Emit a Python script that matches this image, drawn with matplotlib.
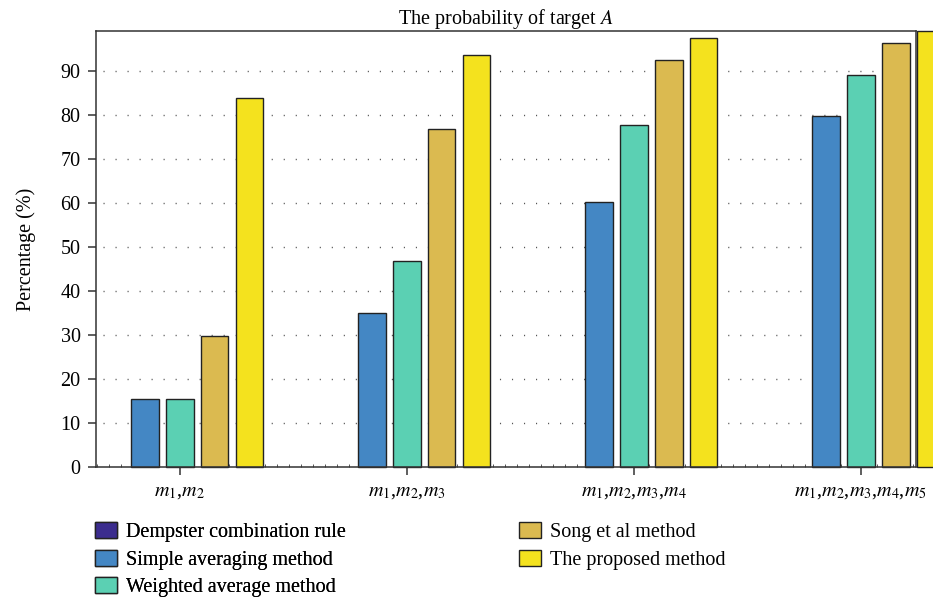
import matplotlib
matplotlib.use("Agg")
import matplotlib.pyplot as plt
import numpy as np
from matplotlib.ticker import MultipleLocator

plt.rcParams['font.family'] = ['Liberation Serif', 'DejaVu Serif']
plt.rcParams['mathtext.fontset'] = 'stix'
plt.rcParams['lines.scale_dashes'] = False

groups = [r'$m_1$,$m_2$', r'$m_1$,$m_2$,$m_3$', r'$m_1$,$m_2$,$m_3$,$m_4$', r'$m_1$,$m_2$,$m_3$,$m_4$,$m_5$']
series_names = ['Dempster combination rule', 'Simple averaging method', 'Weighted average method',
                'Song et al method', 'The proposed method']
dempster = [0, 0, 0, 0]
simple_avg = [15.4, 35.0, 60.2, 79.6]
weighted_avg = [15.4, 46.8, 77.7, 89.1]
song = [29.8, 76.7, 92.5, 96.3]
proposed = [83.8, 93.5, 97.3, 99.0]
colors = ['#3b2c8e', '#4487c4', '#5bd0b3', '#dbba50', '#f4e21e']
yticks = [0, 10, 20, 30, 40, 50, 60, 70, 80, 90]

values = [dempster, simple_avg, weighted_avg, song, proposed]

fig = plt.figure(figsize=(9.33, 5.97), dpi=100)
ax = fig.add_axes([96/933, 1-467/597, (916-96)/933, (467-31)/597])

x = np.arange(1, len(groups)+1)
step = 0.154
width = 0.123
handles = []
for i, (vals, c, name) in enumerate(zip(values, colors, series_names)):
    lws = [0 if v == 0 else 1.0 for v in vals]
    b = ax.bar(x + (i-2)*step, vals, width, color=c, edgecolor='#222222', linewidth=lws,
               label=name, clip_on=False, zorder=2)
    handles.append(b)

ax.set_xlim(0.632, 4.244)
ax.set_ylim(0, 99)
ax.set_yticks(yticks)
ax.set_xticks(x)
ax.set_xticklabels(groups, fontsize=14.5)
ax.xaxis.set_minor_locator(MultipleLocator(12/227))
ax.tick_params(axis='x', which='major', direction='out', length=6, width=1.1, color='#333333', pad=5)
ax.tick_params(axis='x', which='minor', direction='in', length=2.5, width=0.7, color='#555555')
ax.tick_params(axis='y', which='major', direction='out', length=6, width=1.1, color='#333333',
               labelsize=14.5, pad=5)
ax.tick_params(axis='y', which='minor', left=False)

for sp in ax.spines.values():
    sp.set_color('#333333')
    sp.set_linewidth(1.1)
    sp.set_zorder(3)

for yv in yticks[1:]:
    ax.axhline(yv, xmin=7/820, xmax=1, color='#555555', linewidth=1.0,
               linestyle=(0, (0.8, 7.85)), zorder=1)

ax.set_title(r'The probability of target $A$', fontsize=14.5, pad=3)
ax.set_ylabel('Percentage (%)', fontsize=14.5, labelpad=18)

legprops = {'family': ['Liberation Serif', 'DejaVu Serif'], 'size': 14.5}
leg_handles = []
for h, c in zip(handles, colors):
    leg_handles.append(matplotlib.patches.Patch(facecolor=c, edgecolor='#222222', linewidth=1.0))
leg1 = fig.legend(leg_handles[:3], series_names[:3], loc='upper left',
                  bbox_to_anchor=(95/933, 1-522/597), frameon=False, prop=legprops,
                  handlelength=1.1, handleheight=0.85, handletextpad=0.45,
                  labelspacing=0.38, borderpad=0, borderaxespad=0)
leg2 = fig.legend(leg_handles[3:], series_names[3:], loc='upper left',
                  bbox_to_anchor=(519/933, 1-522/597), frameon=False, prop=legprops,
                  handlelength=1.1, handleheight=0.85, handletextpad=0.45,
                  labelspacing=0.38, borderpad=0, borderaxespad=0)
fig.add_artist(leg1)

fig.savefig('out.png', dpi=100)
